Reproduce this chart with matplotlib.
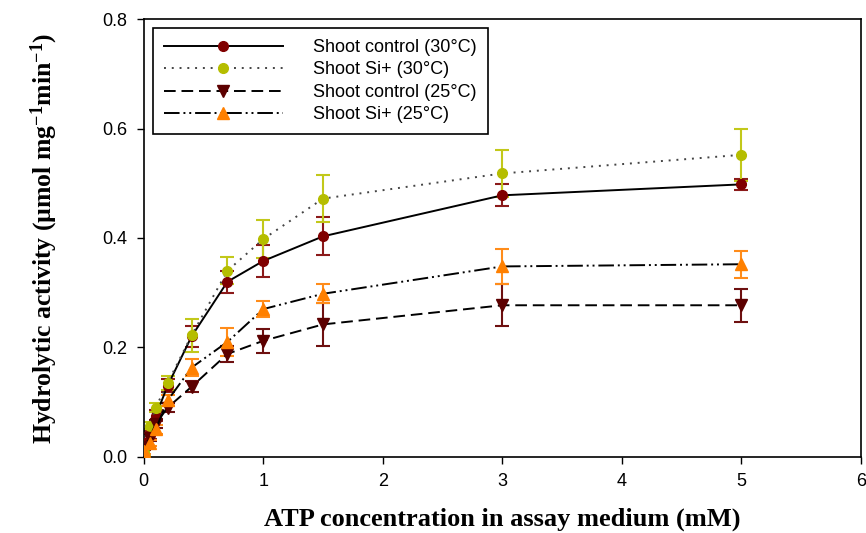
import numpy as np
import matplotlib
matplotlib.use('Agg')
import matplotlib.pyplot as plt

plt.rcParams['font.family'] = 'Liberation Sans'
plt.rcParams['mathtext.fontset'] = 'custom'
plt.rcParams['mathtext.rm'] = 'Liberation Serif:bold'
plt.rcParams['mathtext.it'] = 'Liberation Serif:bold'
plt.rcParams['mathtext.bf'] = 'Liberation Serif:bold'

# ATP concentration (mM)
atp = [0.0, 0.05, 0.1, 0.2, 0.4, 0.7, 1.0, 1.5, 3.0, 5.0]

ctrl30 = [0.025, 0.040, 0.075, 0.130, 0.220, 0.320, 0.358, 0.403, 0.478, 0.498]
ctrl30_err = [0.008, 0.008, 0.010, 0.012, 0.020, 0.020, 0.030, 0.035, 0.020, 0.010]

si30 = [0.008, 0.057, 0.090, 0.135, 0.222, 0.340, 0.398, 0.472, 0.518, 0.552]
si30_err = [0.005, 0.006, 0.008, 0.012, 0.030, 0.025, 0.035, 0.043, 0.043, 0.048]

ctrl25 = [0.018, 0.035, 0.060, 0.090, 0.128, 0.188, 0.212, 0.242, 0.277, 0.277]
ctrl25_err = [0.006, 0.006, 0.008, 0.008, 0.010, 0.015, 0.022, 0.040, 0.038, 0.030]

si25 = [0.010, 0.025, 0.050, 0.103, 0.163, 0.210, 0.270, 0.298, 0.348, 0.352]
si25_err = [0.005, 0.006, 0.008, 0.010, 0.015, 0.025, 0.015, 0.017, 0.032, 0.025]

series = [
    ('Shoot control (30°C)', ctrl30, ctrl30_err, 'o', '#800000', '#8b1a1a', 'black', '-'),
    ('Shoot Si+ (30°C)', si30, si30_err, 'o', '#b5bd00', '#c2c81a', '#444444', (0, (1, 3))),
    ('Shoot control (25°C)', ctrl25, ctrl25_err, 'v', '#5c0000', '#6e1010', 'black', (0, (6, 3))),
    ('Shoot Si+ (25°C)', si25, si25_err, '^', '#ff8000', '#ff8c1a', 'black', (0, (8, 2, 1, 2, 1, 2))),
]

fig = plt.figure(figsize=(8.66, 5.33), dpi=100)
ax = fig.add_axes([0.166, 0.143, 0.828, 0.821])

for name, y, err, mk, col, ecol, lc, ls in series:
    ax.errorbar(atp, y, yerr=err, fmt='none', ecolor=ecol, elinewidth=1.5,
                capsize=5, capthick=1.5, zorder=2)
    ax.plot(atp, y, color=lc, linestyle=ls, linewidth=1.4,
            marker=mk, markersize=8 if mk != 'o' else 7,
            markerfacecolor=col, markeredgecolor=col, label=name, zorder=3)

ax.set_xlim(0, 6)
ax.set_ylim(0, 0.8)
ax.set_xticks(range(7))
ax.set_yticks([0.0, 0.2, 0.4, 0.6, 0.8])
ax.set_yticklabels(['0.0', '0.2', '0.4', '0.6', '0.8'])
ax.tick_params(labelsize=13, direction='out', length=5, width=1, pad=7)
for s in ax.spines.values():
    s.set_linewidth(1.2)

ax.set_xlabel('ATP concentration in assay medium (mM)', family='Liberation Serif',
              fontweight='bold', fontsize=19, labelpad=12)
ax.set_ylabel(r'Hydrolytic activity (µmol mg$^{\mathbf{-1}}$min$^{\mathbf{-1}}$)',
              family='Liberation Serif', fontweight='bold', fontsize=18.5, labelpad=30)

leg = ax.legend(loc='upper left', fontsize=13, handlelength=6.6, numpoints=1,
                fancybox=False, edgecolor='black', framealpha=1,
                borderaxespad=0.5, labelspacing=0.3, handletextpad=1.7,
                borderpad=0.6)
leg.get_frame().set_linewidth(1.2)

fig.savefig('out.png', dpi=100)
